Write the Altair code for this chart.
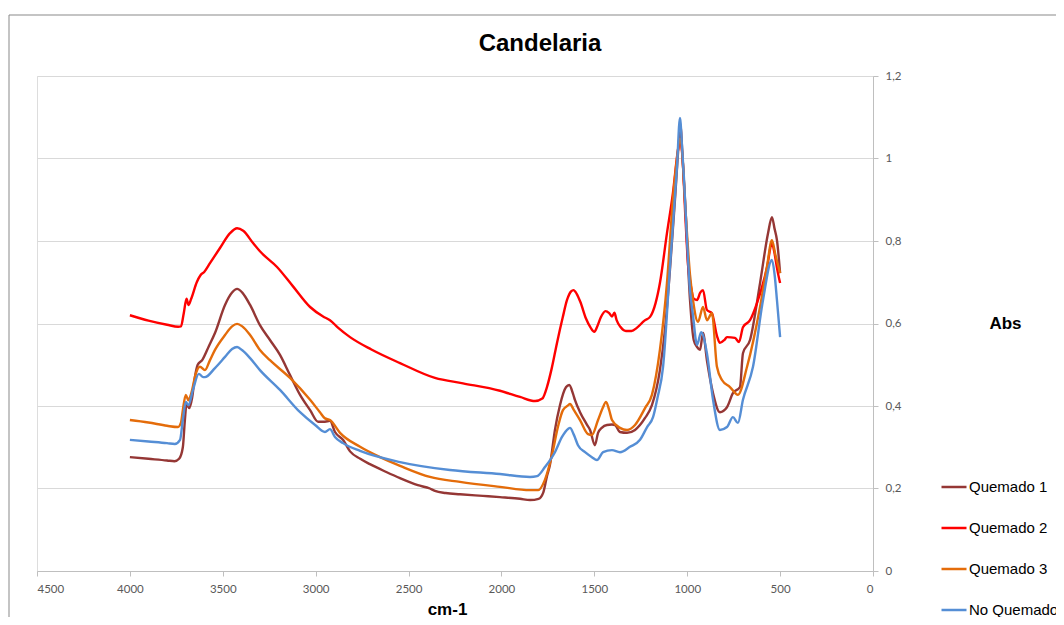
import altair as alt
import pandas as pd

series_names = ["Quemado 1", "Quemado 2", "Quemado 3", "No Quemado"]
series_colors = ["#953735", "#FF0000", "#E46C0A", "#558ED5"]

q1_wn = [4000, 3900, 3800, 3760, 3735, 3715, 3704, 3695, 3680, 3665, 3650, 3635, 3610, 3575, 3542, 3488, 3450, 3423, 3395, 3353, 3300, 3246, 3192, 3138, 3084, 3030, 2987, 2950, 2923, 2896, 2853, 2815, 2760, 2708, 2620, 2546, 2450, 2385, 2358, 2300, 2223, 2100, 2008, 1900, 1846, 1800, 1775, 1755, 1739, 1712, 1685, 1652, 1635, 1615, 1604, 1577, 1540, 1523, 1497, 1480, 1460, 1432, 1405, 1389, 1362, 1324, 1281, 1227, 1190, 1147, 1120, 1093, 1066, 1044, 1036, 1025, 1012, 985, 965, 947, 931, 915, 894, 861, 824, 786, 754, 716, 700, 662, 608, 565, 544, 530, 517, 500]
q1_abs = [0.276, 0.272, 0.268, 0.266, 0.272, 0.300, 0.366, 0.405, 0.395, 0.420, 0.470, 0.500, 0.512, 0.545, 0.577, 0.645, 0.675, 0.684, 0.675, 0.645, 0.596, 0.560, 0.524, 0.475, 0.427, 0.390, 0.362, 0.362, 0.364, 0.337, 0.318, 0.290, 0.272, 0.259, 0.240, 0.225, 0.208, 0.200, 0.194, 0.189, 0.186, 0.182, 0.179, 0.175, 0.172, 0.175, 0.190, 0.230, 0.257, 0.342, 0.402, 0.446, 0.451, 0.430, 0.414, 0.385, 0.355, 0.342, 0.305, 0.335, 0.347, 0.354, 0.355, 0.354, 0.337, 0.335, 0.342, 0.371, 0.402, 0.487, 0.584, 0.730, 0.900, 1.045, 1.078, 1.000, 0.900, 0.657, 0.560, 0.543, 0.536, 0.577, 0.511, 0.431, 0.385, 0.397, 0.431, 0.446, 0.528, 0.560, 0.698, 0.819, 0.858, 0.830, 0.802, 0.722]

q2_wn = [4000, 3900, 3800, 3740, 3725, 3710, 3695, 3685, 3670, 3640, 3620, 3600, 3568, 3515, 3461, 3423, 3390, 3337, 3300, 3208, 3122, 3030, 2960, 2923, 2880, 2815, 2700, 2546, 2358, 2207, 2008, 1900, 1819, 1780, 1755, 1730, 1701, 1670, 1647, 1625, 1612, 1595, 1575, 1545, 1520, 1500, 1485, 1465, 1440, 1420, 1405, 1392, 1380, 1360, 1330, 1300, 1270, 1230, 1200, 1170, 1147, 1109, 1077, 1050, 1039, 1025, 1010, 995, 980, 965, 947, 930, 915, 894, 867, 840, 824, 800, 786, 743, 721, 700, 662, 624, 570, 544, 530, 515, 500]
q2_abs = [0.620, 0.607, 0.597, 0.592, 0.593, 0.625, 0.660, 0.645, 0.660, 0.700, 0.717, 0.725, 0.747, 0.783, 0.819, 0.831, 0.825, 0.795, 0.775, 0.737, 0.690, 0.640, 0.617, 0.608, 0.590, 0.567, 0.537, 0.504, 0.468, 0.455, 0.437, 0.422, 0.412, 0.418, 0.446, 0.490, 0.553, 0.615, 0.657, 0.678, 0.681, 0.672, 0.652, 0.612, 0.590, 0.580, 0.592, 0.615, 0.630, 0.625, 0.617, 0.626, 0.608, 0.592, 0.582, 0.582, 0.590, 0.607, 0.616, 0.650, 0.698, 0.819, 0.916, 1.020, 1.045, 1.000, 0.860, 0.740, 0.690, 0.660, 0.657, 0.675, 0.681, 0.633, 0.625, 0.570, 0.553, 0.560, 0.567, 0.565, 0.555, 0.591, 0.608, 0.650, 0.737, 0.795, 0.770, 0.730, 0.698]

q3_wn = [4000, 3900, 3800, 3741, 3725, 3715, 3699, 3685, 3670, 3644, 3623, 3596, 3570, 3542, 3488, 3450, 3423, 3395, 3353, 3300, 3246, 3138, 3030, 2977, 2950, 2923, 2869, 2761, 2654, 2546, 2385, 2223, 2008, 1846, 1803, 1766, 1728, 1696, 1669, 1640, 1631, 1610, 1577, 1534, 1513, 1480, 1455, 1437, 1420, 1405, 1362, 1324, 1281, 1227, 1190, 1147, 1109, 1077, 1055, 1040, 1030, 1010, 985, 969, 942, 915, 894, 867, 840, 813, 770, 727, 678, 608, 570, 544, 525, 500]
q3_abs = [0.366, 0.360, 0.352, 0.349, 0.360, 0.390, 0.427, 0.414, 0.430, 0.480, 0.495, 0.487, 0.510, 0.536, 0.572, 0.593, 0.599, 0.593, 0.572, 0.536, 0.511, 0.468, 0.415, 0.385, 0.370, 0.366, 0.335, 0.301, 0.276, 0.255, 0.228, 0.216, 0.204, 0.196, 0.196, 0.221, 0.281, 0.349, 0.390, 0.402, 0.405, 0.390, 0.366, 0.332, 0.330, 0.366, 0.395, 0.410, 0.390, 0.366, 0.347, 0.342, 0.354, 0.395, 0.427, 0.536, 0.698, 0.900, 1.000, 1.048, 1.030, 0.880, 0.718, 0.657, 0.604, 0.640, 0.608, 0.625, 0.495, 0.463, 0.446, 0.427, 0.495, 0.640, 0.740, 0.802, 0.766, 0.722]

nq_wn = [4000, 3900, 3800, 3758, 3730, 3715, 3699, 3685, 3660, 3629, 3605, 3596, 3542, 3488, 3450, 3423, 3395, 3353, 3300, 3192, 3084, 3003, 2950, 2923, 2896, 2853, 2761, 2546, 2277, 2008, 1846, 1808, 1766, 1712, 1674, 1640, 1631, 1610, 1588, 1550, 1513, 1486, 1453, 1405, 1362, 1308, 1254, 1216, 1184, 1160, 1130, 1093, 1055, 1039, 1028, 1017, 1001, 985, 969, 947, 925, 894, 861, 824, 786, 754, 727, 700, 646, 592, 544, 530, 517, 500]
nq_abs = [0.318, 0.314, 0.310, 0.308, 0.318, 0.366, 0.410, 0.402, 0.440, 0.478, 0.470, 0.470, 0.492, 0.519, 0.538, 0.543, 0.535, 0.516, 0.487, 0.439, 0.385, 0.354, 0.337, 0.344, 0.325, 0.310, 0.291, 0.264, 0.245, 0.235, 0.228, 0.230, 0.252, 0.288, 0.325, 0.345, 0.347, 0.330, 0.305, 0.288, 0.276, 0.269, 0.288, 0.293, 0.288, 0.301, 0.318, 0.349, 0.373, 0.420, 0.495, 0.737, 0.980, 1.098, 1.030, 0.948, 0.800, 0.680, 0.620, 0.548, 0.579, 0.528, 0.415, 0.342, 0.349, 0.373, 0.359, 0.415, 0.495, 0.657, 0.754, 0.720, 0.657, 0.567]

x_ticks = [0, 500, 1000, 1500, 2000, 2500, 3000, 3500, 4000, 4500]
y_ticks = [0, 0.2, 0.4, 0.6, 0.8, 1.0, 1.2]
chart_title = "Candelaria"

rows = []
for name, wn, ab in [("Quemado 1", q1_wn, q1_abs), ("Quemado 2", q2_wn, q2_abs),
                     ("Quemado 3", q3_wn, q3_abs), ("No Quemado", nq_wn, nq_abs)]:
    for i, (w, a) in enumerate(zip(wn, ab)):
        rows.append({"serie": name, "wn": w, "abs": a, "i": i})
df = pd.DataFrame(rows)

W, H = 836, 495

lines = alt.Chart(df).mark_line(strokeWidth=2.4, interpolate="monotone").encode(
    x=alt.X("wn:Q",
            scale=alt.Scale(domain=[0, 4500], reverse=True, nice=False),
            axis=alt.Axis(values=x_ticks, format="d", grid=False,
                          domainColor="#BFBFBF", tickColor="#BFBFBF", tickSize=5,
                          labelFont="Lato", labelFontSize=11.5, labelColor="#595959",
                          labelPadding=7,
                          title="cm-1", titleFont="Liberation Sans", titleFontSize=17,
                          titleFontWeight="bold", titleColor="#000000",
                          titleX=410, titleY=38, titleBaseline="middle", titleAlign="center")),
    y=alt.Y("abs:Q",
            scale=alt.Scale(domain=[0, 1.2], nice=False),
            axis=alt.Axis(orient="right", values=y_ticks,
                          labelExpr="replace(toString(datum.value), '.', ',')",
                          grid=True, gridColor="#D9D9D9", gridWidth=1,
                          domainColor="#BFBFBF", tickColor="#BFBFBF", tickSize=5,
                          labelFont="Lato", labelFontSize=11.5, labelColor="#595959",
                          labelPadding=7,
                          title="Abs", titleFont="Liberation Sans", titleFontSize=17,
                          titleFontWeight="bold", titleColor="#000000", titleAngle=0,
                          titleX=132, titleY=247, titleBaseline="middle", titleAlign="center")),
    color=alt.Color("serie:N",
                    scale=alt.Scale(domain=series_names, range=series_colors),
                    legend=alt.Legend(title=None, orient="none", legendX=903, legendY=397,
                                      symbolType="stroke", symbolSize=625, symbolStrokeWidth=2.5,
                                      labelFont="Liberation Sans", labelFontSize=15,
                                      labelColor="#000000", labelOffset=1, rowPadding=19,
                                      padding=0)),
    order=alt.Order("i:Q"),
)

one = pd.DataFrame({"k": [0]})
border_top = alt.Chart(one).mark_rule(color="#898989", strokeWidth=1).encode(
    x=alt.value(-28), x2=alt.value(1040), y=alt.value(-61))
border_left = alt.Chart(one).mark_rule(color="#898989", strokeWidth=1).encode(
    x=alt.value(-28), y=alt.value(-61), y2=alt.value(560))
title_text = alt.Chart(one).mark_text(
    text=chart_title, font="Liberation Sans", fontSize=24, fontWeight="bold",
    color="#000000", align="center", baseline="alphabetic").encode(
    x=alt.value(503), y=alt.value(-25))

chart = alt.layer(border_top, border_left, title_text, lines).properties(
    width=W, height=H,
    autosize=alt.AutoSizeParams(type="none"),
    padding={"left": 29, "top": 68, "right": 183, "bottom": 46},
).configure_view(stroke=None).configure(background="white")

chart.save("out.html", embed_options={"renderer": "svg", "actions": False})
